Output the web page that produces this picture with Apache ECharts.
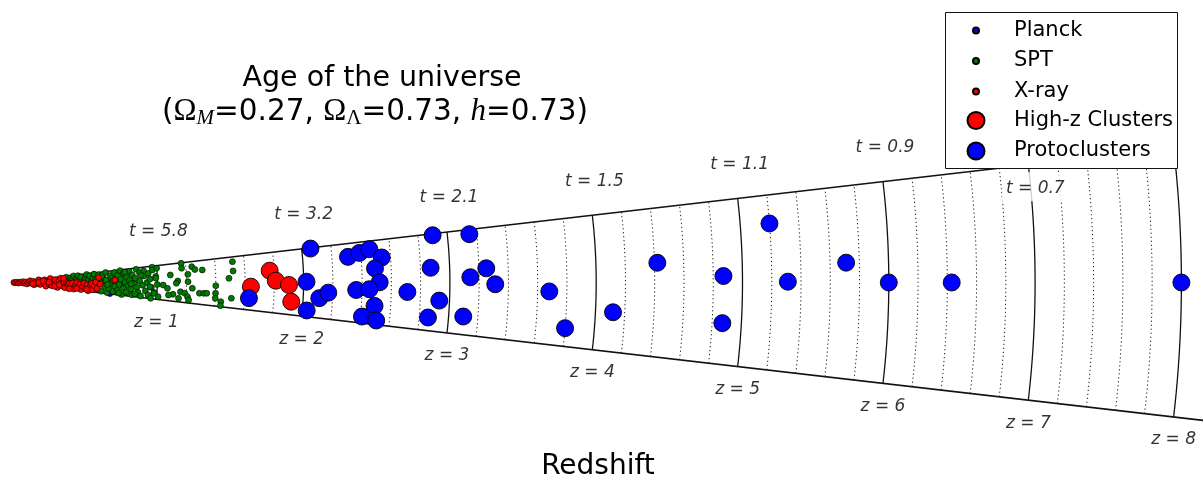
<!DOCTYPE html>
<html><head><meta charset="utf-8">
<script src="https://cdn.jsdelivr.net/npm/echarts@6/dist/echarts.min.js"></script>
<style>html,body{margin:0;padding:0;background:#fff}#c{width:1203px;height:479px}</style>
</head><body><div id="c"></div>
<script>
// ---- data: [redshift z, angle in degrees] ----
const zSolid = [1, 2, 3, 4, 5, 6, 7, 8];
const zDotted = [0.2, 0.4, 0.6, 0.8, 1.2, 1.4, 1.6, 1.8, 2.2, 2.4, 2.6, 2.8, 3.2, 3.4, 3.6, 3.8,
  4.2, 4.4, 4.6, 4.8, 5.2, 5.4, 5.6, 5.8, 6.2, 6.4, 6.6, 6.8, 7.2, 7.4, 7.6, 7.8];
const zTickLabels = ['z = 1', 'z = 2', 'z = 3', 'z = 4', 'z = 5', 'z = 6', 'z = 7', 'z = 8'];
const tTickZ = [1, 2, 3, 4, 5, 6, 7];
const tTickLabels = ['t = 5.8', 't = 3.2', 't = 2.1', 't = 1.5', 't = 1.1', 't = 0.9', 't = 0.7'];

const planck = [[0.76, -1.28], [0.68, -6.4], [0.52, -2.0]];
const xray = [
  [0.02, 0], [0.03, -2], [0.04, 3], [0.05, -4], [0.06, 1], [0.07, -1], [0.08, 4], [0.09, -3], [0.10, 2],
  [0.11, -5], [0.12, 0], [0.13, 5], [0.14, -2], [0.15, 3], [0.16, -5.5], [0.17, 1], [0.18, -1.5], [0.19, 5.5],
  [0.20, -4], [0.21, 2.5], [0.22, -0.5], [0.23, 4.5], [0.24, -6], [0.25, 1.5], [0.26, -2.5], [0.27, 5.8],
  [0.28, -4.5], [0.29, 0.5], [0.30, 3.5], [0.31, -1.5], [0.32, -6], [0.33, 2], [0.34, 5], [0.35, -3.5],
  [0.36, 0], [0.37, -5.5], [0.38, -0.5], [0.39, -2], [0.40, -1], [0.41, -4.5], [0.42, -0.5], [0.43, -6],
  [0.44, -2.5], [0.45, -0.2], [0.46, -4], [0.47, -1.5], [0.48, -5.8], [0.49, -3], [0.50, -0.5], [0.51, -4.8],
  [0.52, -1.8], [0.53, -6.2], [0.54, -3.2], [0.55, -0.8], [0.56, -5], [0.57, -2.2], [0.58, 0.3], [0.59, -4],
  [0.60, 3.2], [0.61, -1], [0.71, 1.4], [0.15, -3.5], [0.19, 0], [0.22, 3], [0.26, 0.5], [0.30, -5],
  [0.33, -2.8], [0.36, 4.5], [0.40, -6.2], [0.45, -5.2], [0.52, -5.2]
];
const spt = [
  [0.37, 3.5], [0.38, 5.5], [0.39, 1.5], [0.41, 4.5], [0.42, 2.5], [0.43, 6], [0.44, 1], [0.45, 3.8],
  [0.46, 5.8], [0.47, 2], [0.48, 4.5], [0.50, 1.5], [0.51, 3.5], [0.52, 6], [0.53, 2.2], [0.54, 4.8],
  [0.55, 0.8], [0.56, 3.2], [0.57, 5.8], [0.58, 2],
  [0.59, -4], [0.60, 5], [0.61, -1], [0.62, 0.5], [0.62, -5.5], [0.63, 3], [0.64, -2.5], [0.65, 6],
  [0.65, 1.5], [0.66, -6], [0.67, -3.5], [0.68, 4], [0.68, -0.5], [0.69, 2.5], [0.70, -5], [0.71, 5.5],
  [0.71, -2], [0.72, 0.8], [0.73, 3.8], [0.73, -4.2], [0.74, -1], [0.75, 6.2], [0.75, 1.8], [0.76, -6.2],
  [0.77, -2.8], [0.77, 4.6], [0.78, 0], [0.79, 2.8], [0.79, -4.8], [0.80, -1.5], [0.81, 5.4], [0.81, 1],
  [0.82, -3.2], [0.83, 3.6], [0.83, -5.8], [0.84, -0.4], [0.85, 2], [0.86, 6], [0.86, -2.2], [0.87, -4.4],
  [0.88, 4.4], [0.88, 0.6], [0.89, -6], [0.90, -1.2], [0.91, 2.8], [0.91, 5], [0.92, -3.6], [0.93, 0],
  [0.94, -5.2], [0.94, 3.8], [0.95, 1.4], [0.96, -2], [0.97, 6.2], [0.98, -4], [0.99, 2.4], [1.00, -0.8],
  [0.97, 5.08], [1.00, 5.57], [0.99, 1.67], [0.95, -1.73], [0.98, -4.34], [0.96, -6.48], [1.01, -5.51],
  [0.62, 3.8], [0.66, -1.2], [0.70, 1.2], [0.74, -5.6], [0.78, 5.2], [0.82, -0.6], [0.85, -5.2], [0.89, 3.2],
  [1.17, 6.42], [1.17, 4.77], [1.24, 5.00], [1.26, 4.04], [1.31, 3.75], [1.52, 5.38], [1.52, 2.97],
  [1.49, 1.10], [1.21, 2.65], [1.09, 2.70], [1.14, 0.51], [1.13, -0.28], [1.04, -0.94], [1.07, -2.13],
  [1.21, 0.26], [1.24, -1.84], [1.16, -3.12], [1.11, -4.16], [1.08, -4.54], [1.19, -3.55], [1.21, -4.59],
  [1.29, -3.27], [1.32, -3.21], [1.34, -3.16], [1.40, -0.90], [1.40, -3.03], [1.40, -4.43], [1.51, -4.09],
  [1.44, -5.23], [1.44, -6.31], [1.22, -5.64], [1.15, -5.39]
];
const highz = [[1.64, -1.00], [1.77, 2.62], [1.81, 0.39], [1.90, -0.51], [1.92, -3.92]];
const protoclusters = [
  [1.63, -3.76], [2.06, 6.46], [2.02, 0.15], [2.03, -5.40], [2.11, -2.91], [2.17, -1.83], [2.31, 4.35],
  [2.39, 4.86], [2.46, 5.31], [2.54, 3.86], [2.49, 2.22], [2.52, 0.03], [2.36, -1.24], [2.45, -1.08],
  [2.49, -3.68], [2.41, -5.54], [2.51, -5.94], [2.71, -1.37], [2.90, 6.39], [3.15, 6.02], [2.87, 2.01],
  [2.93, -2.42], [2.86, -4.80], [3.14, 0.65], [3.25, 1.71], [3.31, -0.21], [3.10, -4.30], [3.68, -0.95],
  [3.80, -4.71], [4.12, -2.83], [4.42, 1.75], [4.87, 0.52], [4.87, -3.27], [5.20, 4.45], [5.31, 0.06],
  [5.71, 1.36], [6.00, 0], [6.43, 0], [8.00, 0]
];

// ---- geometry / style ----
const HALF = 6.6;      // wedge half-opening (deg)
const R_MAX = 8.35;    // radial extent of the wedge
const R_TOP = 8.0;     // upper edge stops under the legend box
const PX_PER_Z = 146.3;
const APEX = [11, 282.5];

function arcPoints(z) {
  const pts = [];
  for (let i = 0; i <= 22; i++) pts.push([z, -HALF + i * (2 * HALF / 22)]);
  return pts;
}
const series = [];
function lineSeries(data, style) {
  series.push({
    type: 'line', coordinateSystem: 'polar', data: data, symbol: 'none', showSymbol: false,
    silent: true, smooth: false, lineStyle: style, z: 2, animation: false
  });
}
lineSeries([[0, HALF], [R_TOP, HALF]], {color: '#111', width: 1.6});
lineSeries([[0, -HALF], [R_MAX, -HALF]], {color: '#111', width: 1.6});
zSolid.forEach(z => lineSeries(arcPoints(z), {color: '#111', width: 1.3}));
zDotted.forEach(z => lineSeries(arcPoints(z), {color: '#222', width: 1, type: [1.3, 2.7]}));

function scatter(name, data, size, color) {
  series.push({
    name: name, type: 'scatter', coordinateSystem: 'polar', data: data, symbol: 'circle',
    symbolSize: size, z: 3, itemStyle: {color: color, borderColor: '#000', borderWidth: size > 10 ? 0.9 : 0.6, opacity: 1}
  });
}
scatter('Planck', planck, 6, '#0000ff');
scatter('SPT', spt, 6, '#007a00');
scatter('X-ray', xray, 6, '#ff0000');
scatter('High-z Clusters', highz, 17, '#ff0000');
scatter('Protoclusters', protoclusters, 17, '#0000ff');

const labelFont = {fontFamily: 'DejaVu Sans', fontStyle: 'italic', fontSize: 17, color: '#000'};
series.push({
  type: 'scatter', coordinateSystem: 'polar', silent: true, symbolSize: 1, z: 5,
  itemStyle: {color: 'rgba(0,0,0,0)'},
  data: zSolid.map((z, i) => ({value: [z, -HALF], name: zTickLabels[i]})),
  label: Object.assign({show: true, position: 'bottom', distance: 14, formatter: p => p.name}, labelFont)
});
series.push({
  type: 'scatter', coordinateSystem: 'polar', silent: true, symbolSize: 1, z: 5,
  itemStyle: {color: 'rgba(0,0,0,0)'},
  data: tTickZ.map((z, i) => {
    const item = {value: [z, HALF], name: tTickLabels[i]};
    if (i === tTickZ.length - 1) {
      item.label = {position: 'bottom', distance: 7, offset: [7, 0], backgroundColor: '#fff', padding: [8, 4, 4, 4]};
    }
    return item;
  }),
  label: Object.assign({show: true, position: 'top', distance: 25, offset: [2, 0], formatter: p => p.name}, labelFont)
});

const legendFont = {fontFamily: 'DejaVu Sans', fontSize: 21, color: '#000'};
const option = {
  animation: false,
  backgroundColor: '#fff',
  polar: {center: APEX, radius: R_MAX * PX_PER_Z},
  radiusAxis: {type: 'value', min: 0, max: R_MAX, show: false},
  angleAxis: {type: 'value', min: -180, max: 180, startAngle: 180, clockwise: false, show: false},
  title: [
    {text: 'Age of the universe', left: 382, top: 64, textAlign: 'center', padding: 0,
      textStyle: {fontFamily: 'DejaVu Sans', fontSize: 28.5, fontWeight: 'normal', color: '#000'}},
    {text: '{p|(}{o|Ω}{s|M}{p|=0.27, }{o|Ω}{u|Λ}{p|=0.73, }{h|h}{p|=0.73)}', left: 375, top: 95,
      textAlign: 'center', padding: 0,
      textStyle: {fontWeight: 'normal', rich: {
        p: {fontFamily: 'DejaVu Sans', fontSize: 29.5, fontWeight: 'normal', color: '#000', lineHeight: 34},
        o: {fontFamily: 'Liberation Serif', fontSize: 31, fontWeight: 'normal', color: '#000', lineHeight: 34},
        h: {fontFamily: 'Liberation Serif', fontStyle: 'italic', fontWeight: 'normal', fontSize: 31, color: '#000', lineHeight: 34},
        s: {fontFamily: 'Liberation Serif', fontStyle: 'italic', fontWeight: 'normal', fontSize: 21, color: '#000', lineHeight: 20, verticalAlign: 'bottom'},
        u: {fontFamily: 'Liberation Serif', fontWeight: 'normal', fontSize: 21, color: '#000', lineHeight: 20, verticalAlign: 'bottom'}
      }}},
    {text: 'Redshift', left: 598, top: 453, textAlign: 'center', padding: 0,
      textStyle: {fontFamily: 'DejaVu Sans', fontSize: 28, fontWeight: 'normal', color: '#000'}}
  ],
  legend: [
    {data: ['Planck', 'SPT', 'X-ray'], orient: 'vertical', left: 972, top: 20, padding: 0,
      itemWidth: 6, itemHeight: 6, itemGap: 9.5, icon: 'circle', z: 20, selectedMode: false,
      textStyle: Object.assign({padding: [0, 0, 0, 30]}, legendFont)},
    {data: ['High-z Clusters', 'Protoclusters'], orient: 'vertical', left: 966.5, top: 110, padding: 0,
      itemWidth: 17, itemHeight: 17, itemGap: 9.5, icon: 'circle', z: 20, selectedMode: false,
      textStyle: Object.assign({padding: [0, 0, 0, 24.5]}, legendFont)}
  ],
  graphic: [{type: 'rect', shape: {x: 945.5, y: 12.5, width: 232, height: 156}, z: 10,
    style: {fill: '#fff', stroke: '#111', lineWidth: 1}}],
  series: series
};
const chart = echarts.init(document.getElementById('c'), null, {renderer: 'canvas'});
chart.setOption(option);
</script></body></html>
